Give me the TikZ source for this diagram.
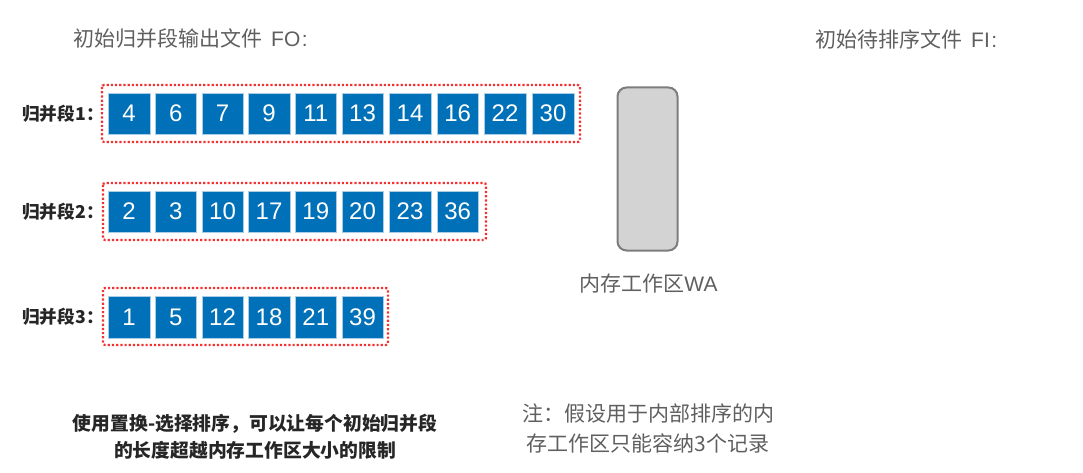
\documentclass[tikz,border=0pt]{standalone}
\usepackage{fontspec}
\setmainfont{Liberation Sans}
\newfontfamily\cjk{Noto Sans CJK SC}
\usetikzlibrary{positioning}
\definecolor{cellblue}{RGB}{0,112,184}
\definecolor{cellline}{RGB}{170,205,230}
\definecolor{dotred}{RGB}{245,50,50}
\definecolor{wagray}{RGB}{211,211,211}
\definecolor{waline}{RGB}{125,125,125}
\definecolor{textgray}{RGB}{95,95,95}
\newcommand{\widecolon}{\symbol{"FF1A}}
\newcommand{\widecomma}{\symbol{"FF0C}}
\tikzset{
  cell/.style = {draw=cellline, fill=cellblue, text=white, minimum size=41.5pt, inner sep=0pt, font=\fontsize{24}{26}\selectfont},
  runbox/.style = {draw=dotred, line width=2.2pt, dotted, rounded corners=2pt},
  runlabel/.style = {anchor=west, inner sep=0pt, text=black!85, font=\cjk\bfseries\fontsize{17.7}{20}\selectfont},
  headline/.style = {anchor=west, inner sep=0pt, text=textgray, font=\fontsize{21}{24}\selectfont},
  notetext/.style = {align=center, inner sep=0pt, text=textgray, font=\cjk\fontsize{21}{30}\selectfont},
  boldtext/.style = {align=center, inner sep=0pt, text=black!85, font=\cjk\bfseries\fontsize{18.8}{27}\selectfont}
}
\begin{document}
\begin{tikzpicture}[x=1pt, y=-1pt]
\useasboundingbox (0,0) rectangle (1083,473);
% titles
\node [headline] (titleFO) at (73,39) {{\cjk 初始归并段输出文件}\hspace{9pt}FO\hspace{1.5pt}:};
\node [headline] (titleFI) at (815,39) {{\cjk 初始待排序文件}\hspace{9pt}FI\hspace{1.5pt}:};
% runs
\node [runlabel] (labelA) at (22,114) {归并段1\widecolon};
\node [runlabel] (labelB) at (22,212) {归并段2\widecolon};
\node [runlabel] (labelC) at (22,317) {归并段3\widecolon};
\draw [runbox] (102,85) rectangle (580,142);
\draw [runbox] (103,183) rectangle (486,240);
\draw [runbox] (103,288) rectangle (388,345);
\foreach \val/\cx [count=\i from 0] in {4/129,6/175.7,7/222.5,9/269,11/315.8,13/362.5,14/410,16/457.7,22/505,30/553}
  \node [cell] (a\i) at (\cx,113.5) {\val};
\foreach \val/\cx [count=\i from 0] in {2/129,3/175.7,10/222.5,17/269,19/315.8,20/362.5,23/410,36/457.7}
  \node [cell] (b\i) at (\cx,211.5) {\val};
\foreach \val/\cx [count=\i from 0] in {1/129,5/175.7,12/222.5,18/269,21/315.8,39/362.5}
  \node [cell] (c\i) at (\cx,317) {\val};
% work area
\node [draw=waline, line width=2pt, fill=wagray, rounded corners=9pt, minimum width=60pt, minimum height=163pt, inner sep=0pt] (wa) at (647.5,169) {};
\node [notetext] (walabel) at (648.5,284) {内存工作区{\fontspec{Liberation Sans}WA}};
% notes
\node [boldtext] (boldnote) at (255,436.5) {使用置换-选择排序\widecomma 可以让每个初始归并段\\的长度超越内存工作区大小的限制};
\node [notetext] (note) at (648,428) {注\widecolon 假设用于内部排序的内\\存工作区只能容纳3个记录};
\end{tikzpicture}
\end{document}
